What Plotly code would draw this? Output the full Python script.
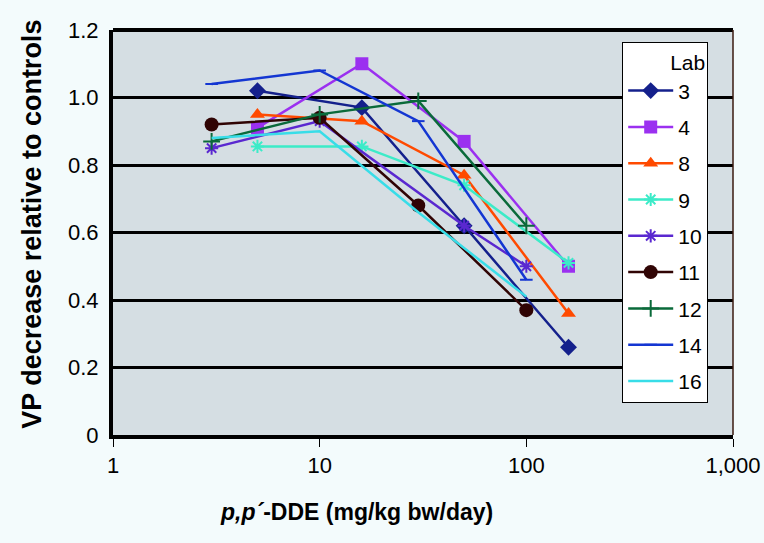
import plotly.graph_objects as go

# ---- data ----
labs = ["3", "4", "8", "9", "10", "11", "12", "14", "16"]
dose_3 = [5, 16, 50, 160]
vp_3 = [1.02, 0.97, 0.62, 0.26]
dose_4 = [5, 16, 50, 160]
vp_4 = [0.91, 1.10, 0.87, 0.50]
dose_8 = [5, 16, 50, 160]
vp_8 = [0.95, 0.93, 0.77, 0.36]
dose_9 = [5, 16, 50, 160]
vp_9 = [0.855, 0.855, 0.74, 0.51]
dose_10 = [3, 10, 50, 100]
vp_10 = [0.85, 0.93, 0.62, 0.50]
dose_11 = [3, 10, 30, 100]
vp_11 = [0.92, 0.94, 0.68, 0.37]
dose_12 = [3, 10, 30, 100]
vp_12 = [0.87, 0.95, 0.99, 0.62]
dose_14 = [3, 10, 30, 100]
vp_14 = [1.04, 1.08, 0.93, 0.46]
dose_16 = [3, 10, 30, 100]
vp_16 = [0.88, 0.90, 0.66, 0.41]

x_tickvals = [1, 10, 100, 1000]
x_ticktext = ["1", "10", "100", "1,000"]
y_tickvals = [0, 0.2, 0.4, 0.6, 0.8, 1.0, 1.2]
y_ticktext = ["0", "0.2", "0.4", "0.6", "0.8", "1.0", "1.2"]

series = [
    (dose_3, vp_3), (dose_4, vp_4), (dose_8, vp_8), (dose_9, vp_9),
    (dose_10, vp_10), (dose_11, vp_11), (dose_12, vp_12),
    (dose_14, vp_14), (dose_16, vp_16),
]
colors = ["#14208c", "#9b30f0", "#ff4a00", "#3cebc8", "#5a28d0",
          "#300404", "#0a6a3a", "#1436d2", "#38dde8"]
symbols = ["diamond", "square", "triangle-up", "asterisk-open", "asterisk-open",
           "circle", "cross-thin-open", "line-ew-open", "circle"]
sizes = [13, 13, 13, 11, 11, 14, 12, 9, 0]

FONT = "Liberation Sans, Arial, sans-serif"
BG = "#f3fbfc"

fig = go.Figure()
for lab, (xs, ys), c, s, sz in zip(labs, series, colors, symbols, sizes):
    fig.add_trace(go.Scatter(
        x=xs, y=ys, name=lab, legendgroup=lab,
        mode="lines+markers" if sz > 0 else "lines",
        line=dict(color=c, width=2.5),
        marker=dict(symbol=s, size=sz, color=c, line=dict(color=c, width=2 if "open" in s else 0)),
    ))

fig.update_layout(
    width=764, height=543,
    margin=dict(l=113, r=31, t=30, b=108),
    paper_bgcolor=BG,
    plot_bgcolor="#d5dee3",
    font=dict(family=FONT, size=22, color="black"),
    showlegend=True,
    legend=dict(
        x=0.96, xanchor="right", y=0.97, yanchor="top",
        bgcolor="white", bordercolor="black", borderwidth=1,
        font=dict(family=FONT, size=21, color="black"),
        title=dict(text="Lab", side="top right", font=dict(family=FONT, size=21)),
        tracegroupgap=6,
        itemwidth=45,
    ),
    xaxis=dict(
        type="log", range=[0, 3], automargin=False,
        tickvals=x_tickvals, ticktext=x_ticktext,
        showgrid=False, zeroline=False,
        showline=True, linecolor="black", linewidth=4,
        ticks="outside", ticklen=8, tickwidth=1, tickcolor="black",
        tickfont=dict(family=FONT, size=22),
    ),
    yaxis=dict(
        range=[0, 1.2], automargin=False,
        tickvals=y_tickvals, ticktext=y_ticktext,
        showgrid=True, gridcolor="black", gridwidth=3,
        zeroline=False,
        showline=True, linecolor="black", linewidth=4,
        ticks="", tickfont=dict(family=FONT, size=22),
        ticklabelstandoff=6,
    ),
    shapes=[
        dict(type="line", xref="paper", yref="paper", x0=0, x1=1, y0=1, y1=1,
             line=dict(color="black", width=4)),
        dict(type="line", xref="paper", yref="paper", x0=1, x1=1, y0=0, y1=1,
             line=dict(color="#3a1a10", width=1.5)),
    ],
    annotations=[
        dict(text="<b>VP decrease relative to controls</b>", xref="paper", yref="paper",
             x=-0.13, y=0.52, textangle=-90, showarrow=False,
             font=dict(family=FONT, size=27, color="black"), xanchor="center", yanchor="middle"),
        dict(text="<b><i>p,p´</i>-DDE (mg/kg bw/day)</b>", xref="paper", yref="paper",
             x=0.392, y=-0.19, showarrow=False,
             font=dict(family=FONT, size=23, color="black"), xanchor="center", yanchor="middle"),
    ],
)

fig.write_html(
    "out.html",
    config={"displayModeBar": False, "responsive": False},
    post_script=("document.documentElement.style.overflow='hidden';"
                 "document.body.style.overflow='hidden';"
                 "document.body.style.margin='0';"
                 "document.body.style.background='%s';" % BG),
)
